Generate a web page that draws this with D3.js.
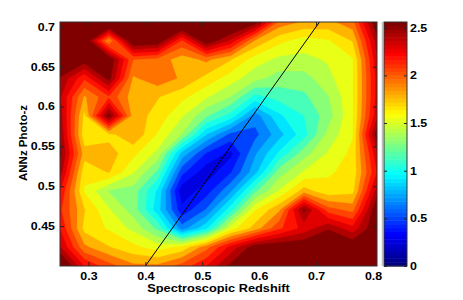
<!DOCTYPE html>
<meta charset="utf-8">
<style>
body { margin: 0; background: #fff; }
text { font-family: "Liberation Sans", Arial, sans-serif; font-weight: bold; }
</style>
<body>
<script src="https://d3js.org/d3.v7.min.js"></script>
<script>
// grid nodes (spectroscopic z across, photo-z down from top)
const specZ = [0.250, 0.293, 0.336, 0.379, 0.421, 0.464, 0.507, 0.550, 0.593, 0.636, 0.679, 0.721, 0.764, 0.807];
const photoZ = [0.706, 0.682, 0.659, 0.635, 0.612, 0.588, 0.565, 0.541, 0.518, 0.494, 0.471, 0.447, 0.424, 0.400];

// density values, one row per photoZ node (top row first)
const density = [
  [2.90, 2.90, 2.90, 2.90, 2.90, 2.90, 2.90, 2.85, 2.65, 2.00, 1.90, 1.88, 2.00, 2.70],
  [2.80, 2.75, 1.90, 2.75, 2.70, 2.15, 2.70, 2.40, 1.90, 1.70, 1.60, 1.65, 1.80, 2.50],
  [2.70, 2.65, 2.70, 2.05, 2.00, 1.85, 1.95, 1.80, 1.60, 1.50, 1.50, 1.55, 1.65, 2.40],
  [2.55, 2.20, 2.62, 1.90, 2.00, 1.90, 1.75, 1.60, 1.45, 1.35, 1.35, 1.50, 1.65, 2.35],
  [2.45, 1.90, 2.15, 1.85, 1.80, 1.70, 1.55, 1.40, 1.10, 1.20, 1.25, 1.40, 1.65, 2.35],
  [2.50, 1.75, 2.65, 1.85, 1.75, 1.55, 1.30, 1.10, 0.70, 1.00, 1.15, 1.35, 1.65, 2.40],
  [2.55, 1.70, 1.75, 1.90, 1.65, 1.40, 0.90, 0.60, 0.60, 0.85, 1.10, 1.45, 1.65, 2.65],
  [2.60, 1.85, 1.85, 1.70, 1.50, 0.85, 0.50, 0.35, 0.75, 1.05, 1.35, 1.55, 1.70, 2.40],
  [2.50, 1.70, 1.80, 1.55, 1.25, 0.55, 0.30, 0.50, 0.85, 1.35, 1.55, 1.65, 1.70, 2.30],
  [2.30, 1.65, 1.40, 1.35, 1.00, 0.30, 0.45, 0.75, 1.25, 1.55, 1.85, 1.70, 1.75, 2.50],
  [2.20, 1.80, 1.55, 1.35, 0.95, 0.42, 0.65, 1.10, 1.65, 1.90, 2.60, 2.10, 2.00, 2.70],
  [2.30, 1.75, 1.65, 1.50, 1.25, 0.70, 1.00, 1.60, 1.85, 2.15, 2.35, 2.55, 2.35, 2.70],
  [2.45, 1.95, 1.80, 1.70, 1.60, 1.70, 2.00, 2.35, 2.65, 2.70, 2.70, 2.70, 2.70, 2.80],
  [2.80, 2.30, 2.10, 1.95, 1.95, 2.10, 2.30, 2.60, 2.80, 2.80, 2.80, 2.80, 2.80, 2.80]
];

const xTicks = [0.3, 0.4, 0.5, 0.6, 0.7, 0.8];
const yTicks = [0.45, 0.5, 0.55, 0.6, 0.65, 0.7];
const cTicks = [0, 0.5, 1, 1.5, 2, 2.5];
const cMax = 2.56;

var margin = {left: 60, top: 22},
    plotW = 317, plotH = 244,
    barX = 384, barW = 23,
    fs = 10.7;

var svg = d3.select("body").append("svg")
    .attr("width", 463)
    .attr("height", 300);

var x = d3.scaleLinear().domain([specZ[0], specZ[specZ.length - 1]]).range([margin.left, margin.left + plotW]);
var y = d3.scaleLinear().domain([photoZ[photoZ.length - 1], photoZ[0]]).range([margin.top + plotH, margin.top]);
var c = d3.scaleLinear().domain([0, cMax]).range([margin.top + plotH, margin.top]);

// matlab jet, 64 colours
function jet(k) {
  var f = k / 63;
  var cl = function(v) { return Math.max(0, Math.min(1, 1.5 - Math.abs(v))); };
  return d3.rgb(cl(4 * f - 3) * 255, cl(4 * f - 2) * 255, cl(4 * f - 1) * 255) + "";
}
function colorOf(v) {
  return jet(Math.max(0, Math.min(63, Math.floor(v / cMax * 64 + 1e-6))));
}

// grid index coords -> data coords (d3.contours puts sample i at i + 0.5)
var nx = specZ.length, ny = photoZ.length;
var gx = d3.scaleLinear().domain([0.5, nx - 0.5]).range([specZ[0], specZ[nx - 1]]);
var gy = d3.scaleLinear().domain([0.5, ny - 0.5]).range([photoZ[0], photoZ[ny - 1]]);

var levels = d3.range(0, cMax + 0.001, 0.128);
var flat = [].concat.apply([], density);
var contours = d3.contours().size([nx, ny]).thresholds(levels)(flat);

var proj = d3.geoTransform({
  point: function(px, py) { this.stream.point(x(gx(px)), y(gy(py))); }
});
var path = d3.geoPath(proj);

svg.append("clipPath").attr("id", "clip")
  .append("rect")
    .attr("x", margin.left).attr("y", margin.top)
    .attr("width", plotW).attr("height", plotH);

svg.append("g")
    .attr("clip-path", "url(#clip)")
  .selectAll("path")
  .data(contours)
  .enter().append("path")
    .attr("d", path)
    .attr("fill", function(d) { return colorOf(d.value); })
    .attr("stroke", function(d) { return colorOf(d.value); })
    .attr("stroke-width", 0.3);

// y = x reference line
var lo = Math.max(x.domain()[0], y.domain()[0]),
    hi = Math.min(x.domain()[1], y.domain()[1]);
svg.append("path")
    .datum([lo, hi])
    .attr("fill", "none")
    .attr("stroke", "#000")
    .attr("stroke-width", 1)
    .attr("d", d3.line().x(function(d) { return x(d); }).y(function(d) { return y(d); }));

// axes, matlab style with ticks pointing in
function styleAxis(g) {
  g.select(".domain").remove();
  g.selectAll("line").attr("stroke", "#222");
  g.selectAll("text").attr("font-size", fs).attr("fill", "#000").attr("class", "stretch")
    .style("font-family", "'Liberation Sans', Arial, sans-serif").style("font-weight", "bold");
}

svg.append("g")
    .attr("transform", "translate(0," + (margin.top + plotH) + ")")
    .call(d3.axisBottom(x).tickValues(xTicks).tickFormat(d3.format("")).tickSizeInner(-4).tickSizeOuter(0).tickPadding(6))
    .call(styleAxis);
svg.append("g")
    .attr("transform", "translate(0," + margin.top + ")")
    .call(d3.axisTop(x).tickValues(xTicks).tickFormat("").tickSizeInner(-4).tickSizeOuter(0))
    .call(styleAxis);
svg.append("g")
    .attr("transform", "translate(" + margin.left + ",0)")
    .call(d3.axisLeft(y).tickValues(yTicks).tickFormat(d3.format("")).tickSizeInner(-4).tickSizeOuter(0).tickPadding(5))
    .call(styleAxis);
svg.append("g")
    .attr("transform", "translate(" + (margin.left + plotW) + ",0)")
    .call(d3.axisRight(y).tickValues(yTicks).tickFormat("").tickSizeInner(-4).tickSizeOuter(0))
    .call(styleAxis);

svg.append("rect")
    .attr("x", margin.left).attr("y", margin.top)
    .attr("width", plotW).attr("height", plotH)
    .attr("fill", "none").attr("stroke", "#333").attr("stroke-width", 1);

// colorbar
var steps = d3.range(64);
svg.append("g").selectAll("rect")
  .data(steps)
  .enter().append("rect")
    .attr("x", barX)
    .attr("width", barW)
    .attr("y", function(k) { return c((k + 1) * cMax / 64); })
    .attr("height", function(k) { return c(k * cMax / 64) - c((k + 1) * cMax / 64) + 0.5; })
    .attr("fill", function(k) { return jet(k); });

svg.append("g")
    .attr("transform", "translate(" + (barX + barW) + ",0)")
    .call(d3.axisRight(c).tickValues(cTicks).tickFormat(d3.format("")).tickSizeInner(-3).tickSizeOuter(0).tickPadding(3))
    .call(styleAxis);
svg.append("g")
    .attr("transform", "translate(" + barX + ",0)")
    .call(d3.axisLeft(c).tickValues(cTicks).tickFormat("").tickSizeInner(-3).tickSizeOuter(0))
    .call(styleAxis);
svg.append("rect")
    .attr("x", barX).attr("y", margin.top)
    .attr("width", barW).attr("height", plotH)
    .attr("fill", "none").attr("stroke", "#333").attr("stroke-width", 1);
svg.append("line")
    .attr("x1", barX - 1.5).attr("x2", barX - 1.5)
    .attr("y1", margin.top).attr("y2", margin.top + plotH)
    .attr("stroke", "#bbb").attr("stroke-width", 1.5);

// labels
svg.append("text")
    .attr("class", "stretch")
    .attr("x", margin.left + plotW / 2)
    .attr("y", 291.5)
    .attr("text-anchor", "middle")
    .attr("font-size", 11)
    .text("Spectroscopic Redshift");
svg.append("text")
    .attr("transform", "translate(27," + (margin.top + plotH / 2 - 1) + ") rotate(-90)")
    .attr("text-anchor", "middle")
    .attr("font-size", 11.5)
    .text("ANNz Photo-z");

// the figure was widened a bit, so horizontal text reads wider than its height
svg.selectAll("text.stretch").each(function() {
  var len = this.getComputedTextLength();
  if (len > 0) d3.select(this).attr("textLength", len * 1.16).attr("lengthAdjust", "spacingAndGlyphs");
});
</script>
</body>
